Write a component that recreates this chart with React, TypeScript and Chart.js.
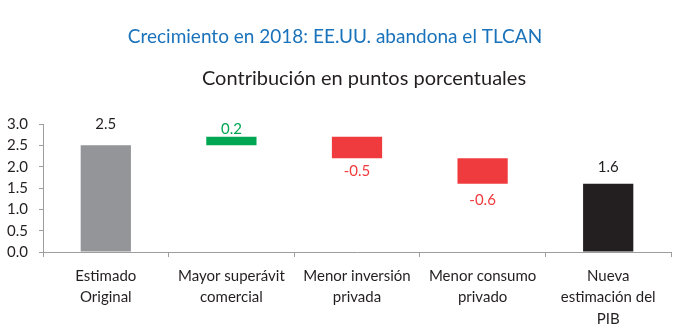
import React, { useEffect, useRef } from "react";
import { Chart, registerables } from "chart.js";

Chart.register(...registerables);

const TITLE = "Crecimiento en 2018: EE.UU. abandona el TLCAN";
const SUBTITLE = "Contribución en puntos porcentuales";
const categories: string[][] = [
  ["Estimado", "Original"],
  ["Mayor superávit", "comercial"],
  ["Menor inversión", "privada"],
  ["Menor consumo", "privado"],
  ["Nueva", "estimación del", "PIB"],
];
const values: number[] = [2.5, 0.2, -0.5, -0.6, 1.6];
const isTotal: boolean[] = [true, false, false, false, true];
const barColors: string[] = ["#939598", "#00a651", "#ef3b3e", "#ef3b3e", "#231f20"];
const labelColors: string[] = ["#231f20", "#00a651", "#ef3b3e", "#ef3b3e", "#231f20"];
const labelGaps: number[] = [16, 3, 7, 10, 12];
const yTicks: number[] = [0, 0.5, 1, 1.5, 2, 2.5, 3];

const FONT = "Lato";

function buildRanges(): [number, number][] {
  const out: [number, number][] = [];
  let running = 0;
  values.forEach((v, i) => {
    if (isTotal[i]) {
      out.push([0, v]);
      running = v;
    } else {
      out.push([running, running + v]);
      running = running + v;
    }
  });
  return out;
}

const titlePlugin = {
  id: "titles",
  afterDraw(chart: any) {
    const ctx = chart.ctx;
    ctx.save();
    ctx.textAlign = "center";
    ctx.textBaseline = "middle";
    ctx.fillStyle = "#1a72bb";
    ctx.font = `19px ${FONT}`;
    ctx.fillText(TITLE, 335, 37);
    ctx.fillStyle = "#231f20";
    ctx.font = `20px ${FONT}`;
    ctx.fillText(SUBTITLE, 364, 79);
    ctx.restore();
  },
};

const valueLabelPlugin = {
  id: "valueLabels",
  afterDatasetsDraw(chart: any) {
    const ctx = chart.ctx;
    const meta = chart.getDatasetMeta(0);
    ctx.save();
    ctx.font = `15px ${FONT}`;
    ctx.textAlign = "center";
    ctx.textBaseline = "alphabetic";
    meta.data.forEach((bar: any, i: number) => {
      const v = values[i];
      const props = bar.getProps(["x", "y", "base"], true);
      const top = Math.min(props.y, props.base);
      const bottom = Math.max(props.y, props.base);
      ctx.fillStyle = labelColors[i];
      const txt = v.toFixed(1);
      const m = ctx.measureText(txt);
      const asc = m.actualBoundingBoxAscent || 11;
      if (v >= 0) {
        ctx.fillText(txt, props.x, top - labelGaps[i]);
      } else {
        ctx.fillText(txt, props.x, bottom + labelGaps[i] + asc);
      }
    });
    ctx.restore();
  },
};

export default function App() {
  const ref = useRef<HTMLCanvasElement | null>(null);
  useEffect(() => {
    if (!ref.current) return;
    const chart = new Chart(ref.current, {
      type: "bar",
      data: {
        labels: categories as any,
        datasets: [
          {
            data: buildRanges() as any,
            backgroundColor: barColors,
            borderWidth: 0,
            categoryPercentage: 1,
            barPercentage: 0.4,
          },
        ],
      },
      options: {
        animation: false,
        responsive: true,
        maintainAspectRatio: false,
        layout: { padding: { left: 0, right: 29, top: 124, bottom: 0 } },
        plugins: {
          legend: { display: false },
          tooltip: { enabled: false },
          title: { display: false },
        },
        scales: {
          x: {
            afterFit(axis: any) {
              axis.height = 82;
            },
            grid: {
              display: true,
              drawOnChartArea: false,
              drawTicks: true,
              tickLength: 5,
              color: "#9d9d9d",
              offset: true,
            },
            border: { display: true, color: "#9d9d9d", width: 1 },
            ticks: {
              color: "#231f20",
              font: { family: FONT, size: 15, lineHeight: 1.45 },
              padding: 8,
              maxRotation: 0,
              autoSkip: false,
            },
          },
          y: {
            min: 0,
            max: 3,
            afterFit(axis: any) {
              axis.width = 43;
            },
            afterBuildTicks(axis: any) {
              axis.ticks = yTicks.map((v) => ({ value: v }));
            },
            grid: {
              display: true,
              drawOnChartArea: false,
              drawTicks: true,
              tickLength: 4,
              color: "#9d9d9d",
            },
            border: { display: true, color: "#9d9d9d", width: 1 },
            ticks: {
              color: "#231f20",
              font: { family: FONT, size: 15 },
              padding: 11,
              autoSkip: false,
              callback: (v: any) => Number(v).toFixed(1),
            },
          },
        },
      },
      plugins: [titlePlugin, valueLabelPlugin],
    });
    return () => chart.destroy();
  }, []);
  return (
    <div style={{ position: "fixed", left: 0, top: 0, width: 700, height: 334, background: "#fff" }}>
      <canvas ref={ref} />
    </div>
  );
}
